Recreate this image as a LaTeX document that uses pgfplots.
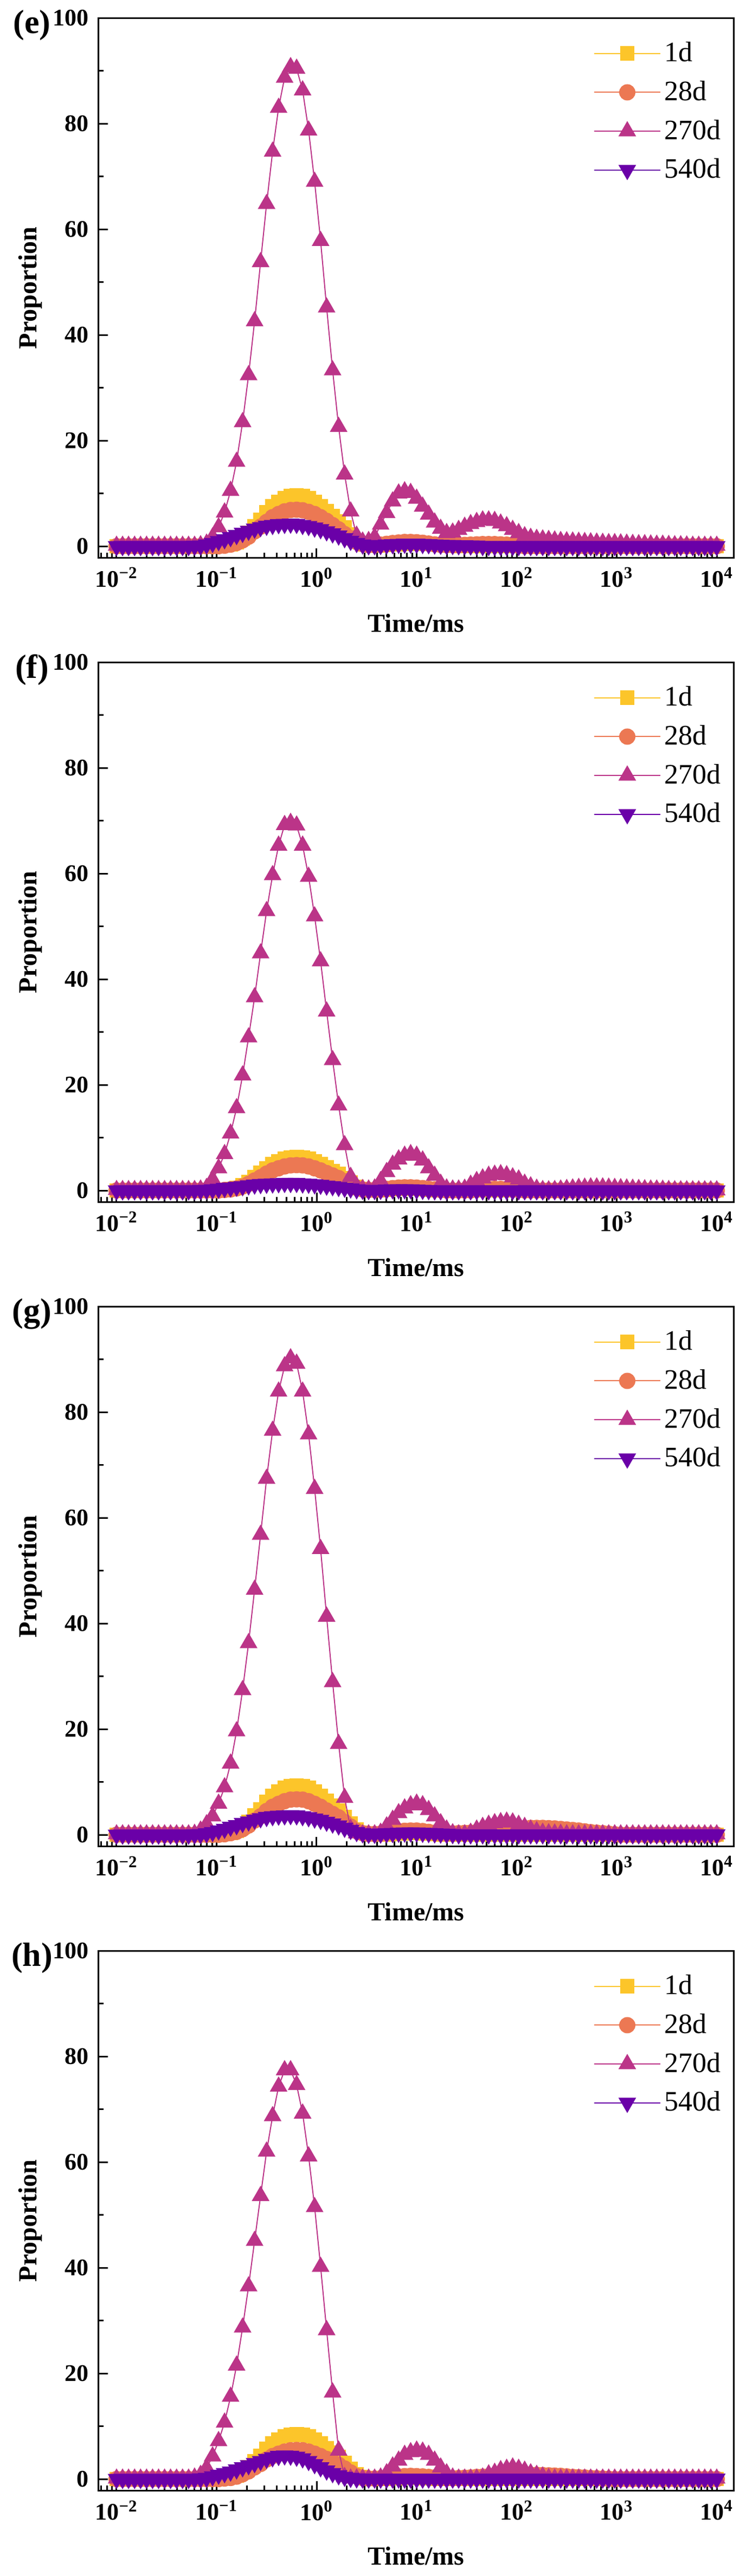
\documentclass[border=0pt]{standalone}
\usepackage{fontspec}
\setmainfont{Liberation Serif}
\usepackage{pgfplots}
\usepackage{pgfplotstable}
\pgfplotsset{compat=1.18}
\definecolor{cA}{HTML}{FCC52A}
\definecolor{cB}{HTML}{EC7853}
\definecolor{cC}{HTML}{BB3488}
\definecolor{cD}{HTML}{6A00A8}

\pgfplotstableread{
x e1 e28 e270 e540 f1 f28 f270 f540 g1 g28 g270 g540 h1 h28 h270 h540
0.01000 0 0 0.1 0 0 0 0.1 0 0 0 0.1 0 0 0 0.1 0
0.01148 0 0 0.1 0 0 0 0.1 0 0 0 0.1 0 0 0 0.1 0
0.01318 0 0 0.1 0 0 0 0.1 0 0 0 0.1 0 0 0 0.1 0
0.01514 0 0 0.1 0 0 0 0.1 0 0 0 0.1 0 0 0 0.1 0
0.01738 0 0 0.1 0 0 0 0.1 0 0 0 0.1 0 0 0 0.1 0
0.01995 0 0 0.1 0 0 0 0.1 0 0 0 0.1 0 0 0 0.1 0
0.02291 0 0 0.1 0 0 0 0.1 0 0 0 0.1 0 0 0 0.1 0
0.02630 0 0 0.1 0 0 0 0.1 0 0 0 0.1 0 0 0 0.1 0
0.03020 0 0 0.1 0 0 0 0.1 0 0 0 0.1 0 0 0 0.1 0
0.03467 0 0 0.1 0 0 0 0.1 0 0 0 0.1 0 0 0 0.1 0
0.03981 0 0 0.1 0 0 0 0.1 0 0 0 0.1 0 0 0 0.1 0
0.04571 0 0 0.1 0 0 0 0.1 0 0 0 0.1 0 0 0 0.1 0
0.05248 0 0 0.1 0 0 0 0.1 0 0 0 0.1 0 0 0 0.1 0
0.06026 0 0 0.1 0.05 0 0 0.1 0 0 0 0.2 0.05 0 0 0.3 0
0.06918 0 0 0.2 0.1 0 0 0.2 0.05 0 0 0.8 0.1 0 0 0.8 0.1
0.07943 0 0 0.5 0.3 0 0 0.5 0.1 0 0 2.0 0.25 0 0 2.1 0.2
0.09120 0 0 1.7 0.6 0 0 2.1 0.2 0 0 3.5 0.5 0 0 4.3 0.5
0.1047 0.1 0 3.6 0.95 0 0 4.2 0.3 0 0 5.9 0.8 0 0 7.2 0.8
0.1202 0.2 0.1 6.4 1.3 0.1 0.1 6.9 0.45 0.2 0.1 9.0 1.1 0.15 0.1 10.7 1.1
0.1380 0.4 0.3 10.5 1.7 0.25 0.2 10.8 0.55 0.4 0.3 13.5 1.5 0.35 0.2 15.6 1.4
0.1585 0.8 0.6 16.0 2.1 0.5 0.4 15.6 0.7 0.75 0.55 19.6 1.8 0.7 0.45 21.5 1.8
0.1820 1.5 1.1 23.5 2.5 1.0 0.75 21.8 0.8 1.5 1.05 27.4 2.2 1.35 0.9 28.7 2.2
0.2089 2.5 1.8 32.4 2.9 1.6 1.25 29.0 0.95 2.4 1.75 36.3 2.5 2.2 1.45 36.5 2.6
0.2399 3.8 2.8 42.6 3.3 2.5 1.9 36.6 1.1 3.7 2.7 46.4 2.85 3.4 2.2 45.1 3.0
0.2754 5.0 3.7 53.8 3.6 3.3 2.5 44.9 1.2 4.8 3.5 56.8 3.1 4.4 2.85 53.6 3.4
0.3162 6.4 4.6 64.8 3.85 4.2 3.2 52.9 1.25 6.2 4.5 67.4 3.35 5.7 3.7 62.0 3.8
0.3631 7.6 5.5 74.7 4.0 5.0 3.8 59.7 1.3 7.35 5.3 76.5 3.5 6.7 4.35 68.7 4.1
0.4169 8.4 6.1 83.0 4.15 5.5 4.2 65.3 1.35 8.15 5.85 83.9 3.6 7.45 4.8 74.3 4.35
0.4786 9.1 6.6 88.7 4.2 6.0 4.55 69.2 1.4 8.85 6.35 88.7 3.65 8.1 5.2 77.4 4.45
0.5495 9.5 6.85 90.7 4.25 6.25 4.75 69.6 1.4 9.2 6.65 90.2 3.7 8.4 5.45 77.4 4.4
0.6310 9.6 6.9 90.4 4.2 6.3 4.8 69.1 1.4 9.3 6.7 89.2 3.65 8.5 5.5 74.6 4.2
0.7244 9.5 6.8 86.3 4.0 6.25 4.75 65.3 1.3 9.2 6.65 83.9 3.5 8.4 5.45 69.2 3.9
0.8318 9.1 6.5 78.7 3.8 6.0 4.55 59.4 1.25 8.85 6.35 75.8 3.3 8.1 5.2 61.1 3.4
0.9550 8.4 6.1 69.0 3.5 5.5 4.2 51.9 1.15 8.15 5.85 65.5 3.05 7.45 4.8 51.5 2.8
1.096 7.6 5.5 57.8 3.2 5.0 3.8 43.4 1.05 7.35 5.3 54.1 2.8 6.7 4.35 40.2 2.2
1.259 6.6 4.8 45.2 2.8 4.35 3.3 33.9 0.9 6.4 4.6 41.3 2.45 5.85 3.8 28.2 1.6
1.445 5.7 4.0 33.3 2.4 3.7 2.85 24.7 0.8 5.5 3.95 28.9 2.1 5.0 3.25 16.4 1.1
1.660 4.7 3.2 22.6 2.0 3.1 2.35 16.1 0.65 4.55 3.3 17.2 1.75 4.15 2.7 5.4 0.7
1.905 3.5 2.3 13.6 1.5 2.3 1.75 8.6 0.5 3.35 2.4 7.0 1.3 3.05 2.0 0.4 0.4
2.188 2.2 1.5 6.6 1.0 1.45 1.1 2.6 0.35 2.15 1.55 1.1 0.9 1.95 1.25 0.1 0.2
2.512 1.0 0.8 2.0 0.6 0.65 0.5 0.8 0.2 0.95 0.7 0.3 0.5 0.85 0.55 0.1 0.1
2.884 0.4 0.4 0.9 0.3 0.25 0.2 0.3 0.1 0.4 0.3 0.1 0.25 0.35 0.2 0.1 0.05
3.311 0.2 0.2 1.0 0.15 0.1 0.1 0.2 0.05 0.2 0.15 0.1 0.15 0.15 0.1 0.1 0.05
3.802 0.1 0.2 1.7 0.15 0 0.1 0.4 0.05 0.1 0.15 0.1 0.15 0.05 0.1 0.1 0.05
4.365 0.1 0.3 4.1 0.2 0 0.15 1.8 0.1 0.05 0.2 0.4 0.2 0.05 0.15 0.3 0.05
5.012 0.2 0.45 6.3 0.3 0.1 0.3 3.5 0.15 0.05 0.35 1.6 0.25 0.05 0.25 1.1 0.05
5.754 0.3 0.6 8.5 0.35 0.2 0.45 4.9 0.2 0.1 0.5 2.85 0.3 0.1 0.4 2.4 0.05
6.607 0.4 0.7 10.0 0.4 0.3 0.55 5.9 0.2 0.2 0.65 4.1 0.35 0.2 0.5 3.5 0.05
7.586 0.45 0.8 10.4 0.45 0.35 0.6 6.6 0.2 0.3 0.75 5.0 0.4 0.3 0.55 4.6 0.05
8.710 0.5 0.8 10.1 0.45 0.35 0.6 6.9 0.2 0.35 0.8 5.6 0.4 0.3 0.6 5.1 0.05
10.00 0.5 0.75 9.0 0.45 0.3 0.55 6.6 0.15 0.35 0.8 5.9 0.4 0.3 0.55 5.4 0.05
11.48 0.5 0.65 7.5 0.4 0.2 0.45 5.7 0.1 0.3 0.7 5.6 0.35 0.2 0.5 5.2 0.05
13.18 0.45 0.5 6.0 0.35 0.1 0.3 4.2 0.05 0.2 0.55 4.7 0.3 0.1 0.4 4.6 0.05
15.14 0.4 0.35 4.5 0.3 0 0.2 2.8 0 0.1 0.4 3.5 0.25 0 0.3 3.5 0.05
17.38 0.3 0.25 3.3 0.25 0 0.1 1.3 0 0 0.3 2.2 0.2 0 0.2 2.2 0.05
19.95 0.2 0.2 2.5 0.2 0 0 0.4 0 0 0.25 1.0 0.15 0 0.15 1.1 0.05
22.91 0.1 0.2 2.6 0.2 0 0 0.2 0 0 0.25 0.3 0.1 0 0.15 0.3 0.05
26.30 0 0.2 3.1 0.15 0 0 0.2 0 0 0.3 0.1 0.05 0 0.2 0.1 0.05
30.20 0 0.25 3.7 0.15 0 0 0.35 0 0 0.35 0.1 0.05 0 0.25 0.1 0.05
34.67 0 0.3 4.2 0.1 0 0 1.1 0 0 0.4 0.4 0.05 0 0.3 0.1 0.05
39.81 0 0.35 4.6 0.1 0 0.15 1.8 0 0 0.5 1.0 0.05 0 0.4 0.1 0.05
45.71 0 0.4 4.9 0 0 0.25 2.3 0 0 0.6 1.5 0.05 0 0.45 0.3 0.05
52.48 0 0.4 4.9 0 0 0.3 2.8 0 0 0.7 1.9 0.05 0 0.5 0.9 0.05
60.26 0 0.4 4.8 0 0 0.3 3.0 0 0 0.8 2.2 0.05 0 0.55 1.2 0.05
69.18 0 0.35 4.3 0 0 0.3 3.1 0 0 0.9 2.4 0.05 0 0.6 1.7 0.05
79.43 0 0.3 3.8 0 0 0.25 2.9 0 0 1.0 2.5 0.05 0 0.65 1.95 0.05
91.20 0 0.2 3.1 0 0 0.15 2.5 0 0 1.1 2.35 0.05 0 0.7 2.2 0.05
104.7 0 0.1 2.5 0 0 0.1 2.1 0 0 1.2 1.9 0.05 0 0.75 1.95 0.05
120.2 0 0 1.9 0 0 0 1.3 0 0 1.25 1.5 0.05 0 0.8 1.6 0.05
138.0 0 0 1.6 0 0 0 0.8 0 0 1.3 1.0 0.05 0 0.8 1.1 0.05
158.5 0 0 1.4 0 0 0 0.35 0 0 1.3 0.7 0.05 0 0.8 0.8 0.05
182.0 0 0 1.3 0 0 0 0.1 0 0 1.3 0.4 0.05 0 0.75 0.5 0.05
208.9 0 0 1.2 0 0 0 0.05 0 0 1.25 0.3 0.05 0 0.7 0.2 0.05
239.9 0 0 1.1 0 0 0 0.1 0 0 1.2 0.25 0.05 0 0.65 0.1 0.05
275.4 0 0 1.0 0 0 0 0.2 0 0 1.1 0.2 0.05 0 0.6 0.1 0.05
316.2 0 0 0.95 0 0 0 0.3 0 0 1.0 0.1 0.05 0 0.5 0.1 0.05
363.1 0 0 0.9 0 0 0 0.4 0 0 0.9 0.1 0.05 0 0.4 0.1 0.05
416.9 0 0 0.85 0 0 0 0.5 0 0 0.8 0.1 0.05 0 0.35 0.1 0.05
478.6 0 0 0.8 0 0 0 0.55 0 0 0.65 0.1 0.05 0 0.3 0.1 0.05
549.5 0 0 0.75 0 0 0 0.6 0 0 0.5 0.1 0.05 0 0.2 0.1 0.05
631.0 0 0 0.7 0 0 0 0.6 0 0 0.4 0.1 0.05 0 0.15 0.1 0.05
724.4 0 0 0.65 0 0 0 0.6 0 0 0.3 0.1 0.05 0 0.1 0.1 0.05
831.8 0 0 0.6 0 0 0 0.55 0 0 0.2 0.1 0.05 0 0.05 0.1 0.05
955.0 0 0 0.6 0 0 0 0.5 0 0 0.1 0.1 0.05 0 0 0.1 0.05
1096 0 0 0.55 0 0 0 0.45 0 0 0 0.1 0.05 0 0 0.1 0.05
1259 0 0 0.5 0 0 0 0.4 0 0 0 0.1 0.05 0 0 0.1 0.05
1445 0 0 0.45 0 0 0 0.35 0 0 0 0.1 0.05 0 0 0.1 0.05
1660 0 0 0.4 0 0 0 0.3 0 0 0 0.1 0.05 0 0 0.1 0.05
1905 0 0 0.4 0 0 0 0.25 0 0 0 0.1 0.05 0 0 0.1 0.05
2188 0 0 0.35 0 0 0 0.2 0 0 0 0.1 0.05 0 0 0.1 0.05
2512 0 0 0.3 0 0 0 0.2 0 0 0 0.1 0.05 0 0 0.1 0.05
2884 0 0 0.3 0 0 0 0.15 0 0 0 0.1 0.05 0 0 0.1 0.05
3311 0 0 0.25 0 0 0 0.1 0 0 0 0.1 0.05 0 0 0.1 0.05
3802 0 0 0.2 0 0 0 0.05 0 0 0 0.1 0.05 0 0 0.1 0.05
4365 0 0 0.2 0 0 0 0.05 0 0 0 0.1 0.05 0 0 0.1 0.05
5012 0 0 0.15 0 0 0 0.05 0 0 0 0.1 0.05 0 0 0.1 0.05
5754 0 0 0.1 0 0 0 0.05 0 0 0 0.1 0.05 0 0 0.1 0.05
6607 0 0 0.1 0 0 0 0.05 0 0 0 0.1 0.05 0 0 0.1 0.05
7586 0 0 0.1 0 0 0 0.05 0 0 0 0.1 0.05 0 0 0.1 0.05
8710 0 0 0.1 0 0 0 0.05 0 0 0 0.1 0.05 0 0 0.1 0.05
10000 0 0 0.1 0 0 0 0.05 0 0 0 0.1 0.05 0 0 0.1 0.05
}\data

\newcommand{\panel}[3]{%
\begin{axis}[
    xmode=log, scale only axis, width=292.75pt, height=249.1pt, anchor=south west,
    at={(45.5pt,#1)},
    xmin=0.006625, xmax=14723, ymin=-2.2, ymax=100,
    xtick={0.01,0.1,1,10,100,1000,10000},
    xticklabels={10\textsuperscript{−2},10\textsuperscript{−1},10\textsuperscript{0},10\textsuperscript{1},10\textsuperscript{2},10\textsuperscript{3},10\textsuperscript{4}},
    minor xtick={0.007,0.008,0.009,0.02,0.03,0.04,0.05,0.06,0.07,0.08,0.09,0.2,0.3,0.4,0.5,0.6,0.7,0.8,0.9,2,3,4,5,6,7,8,9,20,30,40,50,60,70,80,90,200,300,400,500,600,700,800,900,2000,3000,4000,5000,6000,7000,8000,9000},
    ytick={0,20,40,60,80,100}, yticklabels={0,20,40,60,80,100},
    minor ytick={10,30,50,70,90},
    tick align=inside, xtick pos=left, ytick pos=left,
    major tick length=4.3pt, minor tick length=2.3pt,
    axis line style={line width=0.75pt},
    tick style={line width=0.75pt, black},
    tick label style={font=\fontsize{11}{11}\selectfont\bfseries},
    yticklabel style={xshift=-1pt},
    xticklabel style={yshift=-1pt},
    xlabel={Time/ms}, ylabel={Proportion},
    label style={font=\fontsize{12}{12}\selectfont\bfseries},
    xlabel style={at={(axis description cs:0.5,-0.121)}, anchor=center},
    ylabel style={at={(axis description cs:-0.1076,0.5)}, anchor=center},
    clip mode=individual,
    legend style={draw=none, fill=none, at={(0.779,0.962)}, anchor=north west,
      font=\fontsize{13}{13}\selectfont, row sep=4.4pt, inner sep=0pt,
      nodes={inner sep=1.5pt}},
    legend cell align=left,
    legend image code/.code={\draw[mark repeat=2,mark phase=2] plot coordinates {(0pt,0pt) (15.25pt,0pt) (30.5pt,0pt)};},
  ]
\addplot[color=cA, line width=0.5pt, mark=square*, mark size=3.1pt, mark options={solid, fill=cA}] table[x=x,y=#21]{\data};
\addplot[color=cB, line width=0.5pt, mark=*, mark size=3.5pt, mark options={solid, fill=cB}] table[x=x,y=#228]{\data};
\addplot[color=cC, line width=0.5pt, mark=triangle*, mark size=4.2pt, mark options={solid, fill=cC}] table[x=x,y=#2270]{\data};
\addplot[color=cD, line width=0.5pt, mark=triangle*, mark size=4.2pt, mark options={solid, fill=cD, rotate=180}] table[x=x,y=#2540]{\data};
\legend{1d,28d,270d,540d}
\node[font=\fontsize{15.5}{16}\selectfont\bfseries] at (rel axis cs:-0.105,0.986) {(#3)};
\end{axis}%
}

\begin{document}
\begin{tikzpicture}
\useasboundingbox (0,0) rectangle (343.75pt,-1188.5pt);
\panel{-257.36pt}{e}{e}
\panel{-554.61pt}{f}{f}
\panel{-851.86pt}{g}{g}
\panel{-1149.11pt}{h}{h}
\end{tikzpicture}
\end{document}
